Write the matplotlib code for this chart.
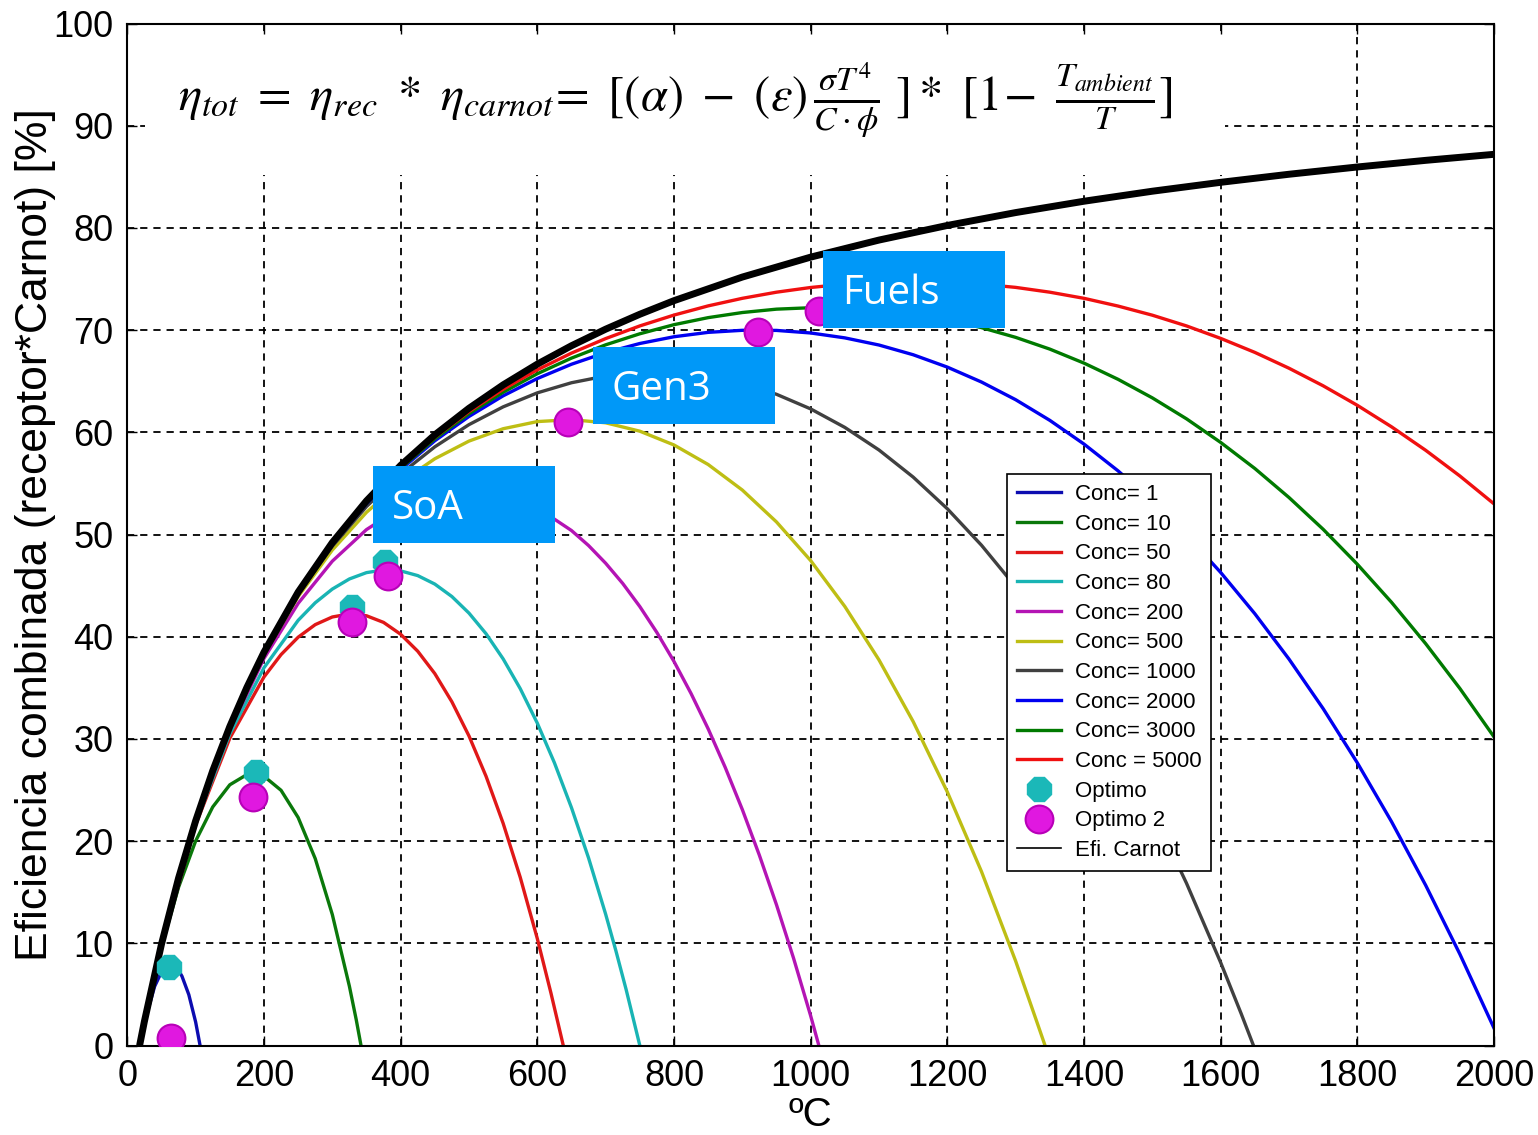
import matplotlib
matplotlib.use('Agg')
import matplotlib.pyplot as plt
from matplotlib.lines import Line2D
from matplotlib.patches import Rectangle

# ---------------- data ----------------
carnot_x = [18, 25, 50, 75, 100, 125, 150, 175, 200, 250, 300, 350, 400, 450, 500,
            550, 600, 650, 700, 750, 800, 900, 1000, 1100, 1200, 1300, 1400, 1500,
            1600, 1700, 1800, 1900, 2000]
carnot_y = [0, 2.35, 9.91, 16.38, 21.98, 26.88, 31.21, 35.04, 38.48, 44.36, 49.21,
            53.29, 56.76, 59.75, 62.35, 64.64, 66.67, 68.47, 70.09, 71.55, 72.88,
            75.19, 77.14, 78.81, 80.24, 81.50, 82.61, 83.59, 84.46, 85.25, 85.96,
            86.61, 87.20]

c1_x = [18, 25, 40, 50, 60, 70, 75, 80, 90, 100, 106.5]
c1_y = [0, 2.23, 5.78, 7.20, 7.86, 7.73, 7.36, 6.78, 4.98, 2.30, 0]

c10_x = [18, 25, 50, 75, 100, 125, 150, 175, 185, 200, 225, 250, 275, 300, 325, 335, 342]
c10_y = [0, 2.34, 9.64, 15.48, 20.01, 23.34, 25.51, 26.51, 26.60, 26.35, 24.97,
         22.31, 18.29, 12.82, 5.80, 2.53, 0]

c50_x = [18, 25, 50, 100, 150, 200, 225, 250, 275, 300, 325, 350, 375, 400, 425,
         450, 475, 500, 525, 550, 575, 600, 620, 638]
c50_y = [0, 2.35, 9.86, 21.59, 30.07, 36.06, 38.25, 39.95, 41.18, 41.93, 42.23,
         42.05, 41.40, 40.24, 38.58, 36.39, 33.63, 30.29, 26.34, 21.74, 16.46,
         10.46, 5.12, 0]

c80_x = [18, 25, 50, 100, 150, 200, 250, 275, 300, 325, 350, 375, 400, 425, 450,
         475, 500, 525, 550, 575, 600, 625, 650, 675, 700, 715, 730, 750]
c80_y = [0, 2.35, 9.88, 21.73, 30.50, 36.96, 41.60, 43.32, 44.66, 45.65, 46.27,
         46.53, 46.44, 45.98, 45.15, 43.93, 42.31, 40.29, 37.83, 34.92, 31.54,
         27.67, 23.27, 18.35, 12.85, 9.27, 5.47, 0]

c200_x = [18, 25, 50, 100, 150, 200, 250, 300, 350, 400, 450, 500, 550, 600, 650,
          675, 700, 725, 750, 775, 800, 825, 850, 875, 900, 925, 950, 975, 1000, 1012]
c200_y = [0, 2.35, 9.90, 21.88, 30.93, 37.87, 43.26, 47.39, 50.48, 52.63, 53.91,
          54.33, 53.91, 52.62, 50.39, 48.92, 47.19, 45.21, 42.95, 40.41, 37.58,
          34.44, 30.99, 27.21, 23.09, 18.61, 13.77, 8.54, 2.91, 0]

c500_x = [18, 25, 50, 100, 150, 200, 250, 300, 350, 400, 450, 500, 550, 600, 650,
          700, 750, 800, 850, 900, 950, 1000, 1050, 1100, 1150, 1200, 1250, 1300,
          1330, 1343]
c500_y = [0, 2.35, 9.90, 21.94, 31.10, 38.24, 43.92, 48.48, 52.17, 55.11, 57.41,
          59.14, 60.35, 61.05, 61.24, 60.93, 60.11, 58.76, 56.85, 54.35, 51.23,
          47.45, 42.96, 37.73, 31.70, 24.81, 17.02, 8.26, 2.51, 0]

c1000_x = [18, 25, 50, 100, 150, 200, 250, 300, 350, 400, 450, 500, 550, 600, 650,
           700, 750, 800, 850, 900, 950, 1000, 1050, 1100, 1150, 1200, 1250, 1300,
           1350, 1400, 1450, 1500, 1550, 1600, 1630, 1648]
c1000_y = [0, 2.35, 9.91, 21.96, 31.15, 38.36, 44.14, 48.85, 52.73, 55.93, 58.58,
           60.75, 62.49, 63.86, 64.85, 65.51, 65.83, 65.82, 65.47, 64.77, 63.72,
           62.29, 60.48, 58.27, 55.62, 52.52, 48.95, 44.88, 40.27, 35.10, 29.33,
           22.94, 15.88, 8.12, 3.12, 0]

c2000_x = [18, 25, 50, 100, 150, 200, 250, 300, 350, 400, 450, 500, 550, 600, 650,
           700, 750, 800, 850, 900, 950, 1000, 1050, 1100, 1150, 1200, 1250, 1300,
           1350, 1400, 1450, 1500, 1550, 1600, 1650, 1700, 1750, 1800, 1850, 1900,
           1950, 2000]
c2000_y = [0, 2.35, 9.91, 21.97, 31.18, 38.42, 44.25, 49.03, 53.01, 56.35, 59.17,
           61.55, 63.57, 65.26, 66.66, 67.80, 68.69, 69.35, 69.78, 69.98, 69.97,
           69.72, 69.24, 68.54, 67.59, 66.38, 64.92, 63.19, 61.17, 58.85, 56.22,
           53.26, 49.96, 46.29, 42.25, 37.81, 32.96, 27.66, 21.91, 15.68, 8.95, 1.70]

c3000_x = [18, 25, 50, 100, 150, 200, 250, 300, 350, 400, 450, 500, 550, 600, 650,
           700, 750, 800, 850, 900, 950, 1000, 1050, 1100, 1150, 1200, 1250, 1300,
           1350, 1400, 1450, 1500, 1550, 1600, 1650, 1700, 1750, 1800, 1850, 1900,
           1950, 2000]
c3000_y = [0, 2.35, 9.91, 21.97, 31.19, 38.44, 44.29, 49.09, 53.10, 56.48, 59.36,
           61.82, 63.92, 65.73, 67.26, 68.56, 69.64, 70.53, 71.22, 71.72, 72.05,
           72.19, 72.16, 71.96, 71.57, 71.00, 70.24, 69.29, 68.14, 66.77, 65.18,
           63.37, 61.32, 59.01, 56.46, 53.62, 50.51, 47.09, 43.37, 39.32, 34.94, 30.20]

c5000_x = [18, 25, 50, 100, 150, 200, 250, 300, 350, 400, 450, 500, 550, 600, 650,
           700, 750, 800, 850, 900, 950, 1000, 1050, 1100, 1150, 1200, 1250, 1300,
           1350, 1400, 1450, 1500, 1550, 1600, 1650, 1700, 1750, 1800, 1850, 1900,
           1950, 2000]
c5000_y = [0, 2.35, 9.91, 21.98, 31.20, 38.46, 44.32, 49.14, 53.18, 56.59, 59.52,
           62.03, 64.21, 66.11, 67.75, 69.17, 70.41, 71.47, 72.37, 73.11, 73.71,
           74.17, 74.50, 74.70, 74.76, 74.70, 74.50, 74.18, 73.71, 73.11, 72.35,
           71.46, 70.41, 69.19, 67.82, 66.27, 64.55, 62.64, 60.54, 58.24, 55.73, 53.00]

series_labels = ['Conc= 1', 'Conc= 10', 'Conc= 50', 'Conc= 80', 'Conc= 200',
                 'Conc= 500', 'Conc= 1000', 'Conc= 2000', 'Conc= 3000', 'Conc = 5000']

optimo_x = [60.6, 189, 329, 376.6]
optimo_y = [7.7, 26.8, 42.9, 47.3]
optimo2_x = [64.4, 184, 329, 381.5, 645.5, 923, 1012]
optimo2_y = [0.7, 24.3, 41.4, 45.9, 61.0, 69.8, 71.9]

x_ticks = [0, 200, 400, 600, 800, 1000, 1200, 1400, 1600, 1800, 2000]
y_ticks = [0, 10, 20, 30, 40, 50, 60, 70, 80, 90, 100]

box_labels = ['SoA', 'Gen3', 'Fuels']

# ---------------- styling ----------------
plt.rcParams['font.family'] = ['Liberation Sans', 'DejaVu Sans']
plt.rcParams['mathtext.fontset'] = 'stix'

colors = ['#0C0CB0', '#0A780A', '#E01818', '#19B4B4', '#B414B4',
          '#BEBE14', '#404040', '#0000F0', '#007A00', '#F01010']

curves = [(c1_x, c1_y), (c10_x, c10_y), (c50_x, c50_y), (c80_x, c80_y),
          (c200_x, c200_y), (c500_x, c500_y), (c1000_x, c1000_y),
          (c2000_x, c2000_y), (c3000_x, c3000_y), (c5000_x, c5000_y)]

fig = plt.figure(figsize=(15.38, 11.35), dpi=100)
ax = fig.add_axes([0.08277, 0.07885, 0.88862, 0.90044])

handles = []
for (xs, ys), col, lab in zip(curves, colors, series_labels):
    h, = ax.plot(xs, ys, color=col, lw=2.4, zorder=2, label=lab)
    handles.append(h)

ax.plot(carnot_x, carnot_y, color='black', lw=5.0, zorder=3, solid_capstyle='butt')

h_opt, = ax.plot(optimo_x, optimo_y, linestyle='none', marker='8', markersize=18,
                 markerfacecolor='#1BB8B8', markeredgecolor='#1BB8B8', zorder=4)
h_opt2, = ax.plot(optimo2_x, optimo2_y, linestyle='none', marker='o', markersize=20,
                  markerfacecolor='#E018E0', markeredgecolor='#B800B8',
                  markeredgewidth=1.5, zorder=5)
h_car = Line2D([], [], color='black', lw=1.2)

ax.set_xlim(0, 2000)
ax.set_ylim(0, 100)
ax.set_xticks(x_ticks)
ax.set_yticks(y_ticks)
ax.tick_params(direction='in', length=7, width=1, top=True, right=True,
               labelsize=26, pad=10)
ax.set_axisbelow(True)
ax.grid(True, color='black', linestyle=(0, (4, 3.3)), lw=1.3)
for s in ax.spines.values():
    s.set_linewidth(1.5)

ax.set_xlabel('ºC', fontsize=29, labelpad=1)
ax.set_ylabel('Eficiencia combinada (receptor*Carnot) [%]', fontsize=32, labelpad=-2)

# white panel behind equation
ax.add_patch(Rectangle((0.013, 0.852), 0.790, 0.136, transform=ax.transAxes,
                       facecolor='white', edgecolor='none', zorder=1))
eq = (r'$\eta_{tot}\ =\ \eta_{rec}\ *\ \eta_{carnot}\!=\ [(\alpha)\ -\ (\varepsilon)\,'
      r'\frac{\sigma T^{4}}{C\cdot\phi}\ ]*\ [1\!-\ \frac{T_{ambient}}{T}]$')
ax.text(0.037, 0.925, eq, transform=ax.transAxes, fontsize=35, va='center',
        ha='left', zorder=8)

# blue annotation boxes
box_pos = [(0.1798, 0.4917), (0.3407, 0.6081), (0.5090, 0.7021)]
for (bx, by), txt in zip(box_pos, box_labels):
    ax.add_patch(Rectangle((bx, by), 0.1332, 0.0753, transform=ax.transAxes,
                           facecolor='#0098F8', edgecolor='none', zorder=6))
    ax.text(bx + 0.0139, by + 0.0336, txt, transform=ax.transAxes, color='white',
            fontsize=29, family=['Open Sans', 'DejaVu Sans'], va='center',
            ha='left', zorder=7)

leg = ax.legend(handles + [h_opt, h_opt2, h_car],
                series_labels + ['Optimo', 'Optimo 2', 'Efi. Carnot'],
                loc='upper left', bbox_to_anchor=(0.6437, 0.5592), borderaxespad=0,
                fancybox=False, edgecolor='black', framealpha=1, handlelength=2.0,
                handletextpad=0.6, labelspacing=0.39, borderpad=0.45, markerscale=1.0,
                prop={'family': ['Liberation Sans', 'DejaVu Sans'], 'size': 16})
leg.get_frame().set_linewidth(1.2)
leg.set_zorder(10)

fig.savefig('out.png', dpi=100)
